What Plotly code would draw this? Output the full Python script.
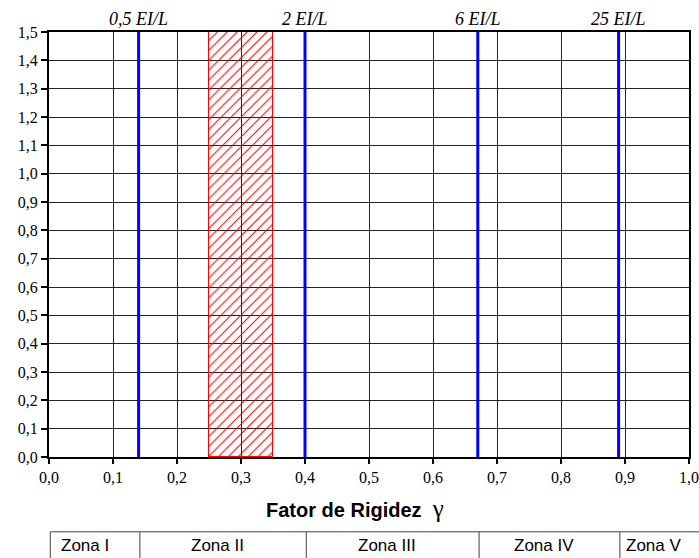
import plotly.graph_objects as go

# --- dados ---
rigidez_limites = [0.14, 0.40, 0.67, 0.89]
rigidez_rotulos = ["0,5 EI/L", "2 EI/L", "6 EI/L", "25 EI/L"]
faixa_x = [0.25, 0.35]
y_max = 1.5
zonas = ["Zona I", "Zona II", "Zona III", "Zona IV", "Zona V"]
zona_bordas = [0.0, 0.14, 0.40, 0.67, 0.89, 1.0]

x_ticks = [i / 10 for i in range(11)]
x_ticklabels = [f"{v:.1f}".replace(".", ",") for v in x_ticks]
y_ticks = [i / 10 for i in range(16)]
y_ticklabels = [f"{v:.1f}".replace(".", ",") for v in y_ticks]

fig = go.Figure()

# faixa hachurada
fig.add_trace(go.Bar(
    x=[(faixa_x[0] + faixa_x[1]) / 2], y=[y_max], width=[faixa_x[1] - faixa_x[0]], base=0,
    marker=dict(color="rgba(0,0,0,0)", line=dict(color="red", width=1),
                pattern=dict(shape="/", fgcolor="red", bgcolor="rgba(0,0,0,0)",
                             fillmode="replace", size=7, solidity=0.15)),
    hoverinfo="skip", showlegend=False))

# linhas azuis
for xv in rigidez_limites:
    fig.add_trace(go.Scatter(x=[xv, xv], y=[0, y_max], mode="lines",
                             line=dict(color="#0000ff", width=3),
                             hoverinfo="skip", showlegend=False))

for xv, txt in zip(rigidez_limites, rigidez_rotulos):
    fig.add_annotation(x=xv, y=1, xref="x", yref="paper", text=f"<i>{txt}</i>", showarrow=False,
                       yanchor="bottom", yshift=1,
                       font=dict(family="Liberation Serif", size=18, color="black"))

# titulo do eixo
fig.add_annotation(x=0.478, y=-0.12, xref="paper", yref="paper", showarrow=False,
                   xanchor="center", yanchor="middle",
                   text="<b>Fator de Rigidez</b>  <span style='font-family:Liberation Serif;font-size:25px'>γ</span>",
                   font=dict(family="Liberation Sans", size=20, color="black"))

# tabela das zonas
tab_top = -0.176
tab_bot = -0.30
tab_txt = -0.209
fig.add_shape(type="line", xref="paper", yref="paper", x0=0.002, x1=1.03, y0=tab_top, y1=tab_top,
              line=dict(color="#444", width=1))
for b in zona_bordas[:-1]:
    fig.add_shape(type="line", xref="x", yref="paper", x0=b + 0.002, x1=b + 0.002,
                  y0=tab_top, y1=tab_bot, line=dict(color="#444", width=1))
for i, z in enumerate(zonas):
    x0, x1 = zona_bordas[i], zona_bordas[i + 1]
    if i == 0 or i == len(zonas) - 1:
        fig.add_annotation(x=x0, y=tab_txt, xref="x", yref="paper", text=z, showarrow=False,
                           xanchor="left", yanchor="middle", xshift=5 if i else 10,
                           font=dict(family="Liberation Sans", size=17, color="black"))
    else:
        fig.add_annotation(x=(x0 + x1) / 2, y=tab_txt, xref="x", yref="paper", text=z,
                           showarrow=False, xanchor="center", yanchor="middle", xshift=-4,
                           font=dict(family="Liberation Sans", size=17, color="black"))

fig.update_xaxes(range=[0, 1.0], tickvals=x_ticks, ticktext=x_ticklabels,
                 showgrid=True, gridcolor="#222", gridwidth=1, automargin=False,
                 showline=True, linecolor="black", linewidth=2, mirror=True,
                 ticks="outside", ticklen=5, tickcolor="black", tickwidth=2,
                 zeroline=False,
                 tickfont=dict(family="Liberation Serif", size=16, color="black"))
fig.update_yaxes(range=[0, 1.5], tickvals=y_ticks, ticktext=y_ticklabels,
                 showgrid=True, gridcolor="#222", gridwidth=1, automargin=False,
                 showline=True, linecolor="black", linewidth=2, mirror=True,
                 ticks="outside", ticklen=6, tickcolor="black", tickwidth=2,
                 zeroline=False,
                 tickfont=dict(family="Liberation Serif", size=16, color="black"))

fig.update_layout(width=699, height=558, margin=dict(l=49, r=10, t=32, b=101),
                  paper_bgcolor="white", plot_bgcolor="white", bargap=0)

# pagina sem margem nem barras de rolagem, do tamanho exato da figura
fig.write_html("out.html", config={"displayModeBar": False},
               post_script="document.body.style.margin='0';"
                           "document.body.style.overflow='hidden';"
                           "document.documentElement.style.overflow='hidden';")
